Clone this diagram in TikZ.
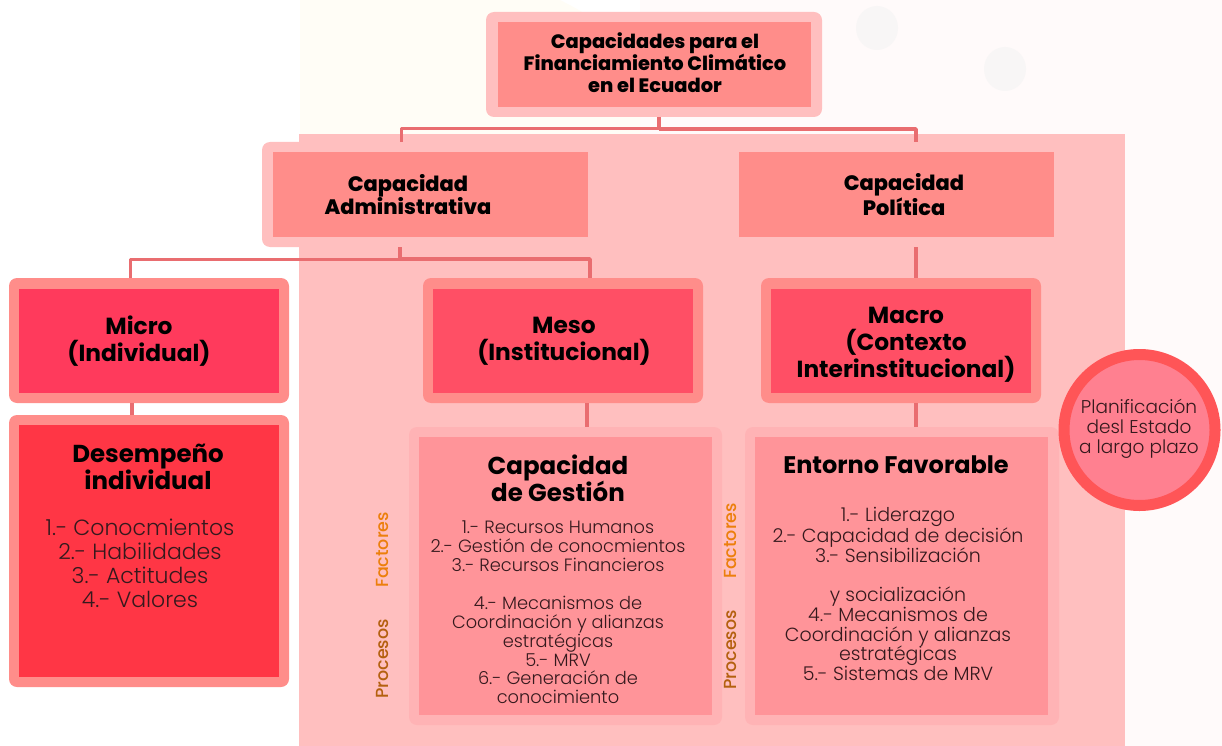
\documentclass[tikz,border=0pt]{standalone}
\usepackage{fontspec}
\setmainfont{Poppins}
\newfontfamily\heavyf{Poppins ExtraBold}
\newfontfamily\lightf{Poppins Light}
\newfontfamily\medf{Poppins Medium}
\definecolor{panel}{HTML}{FFBFBF}
\definecolor{salmon}{HTML}{FF8D8A}
\definecolor{wire}{HTML}{E96D70}
\definecolor{microc}{HTML}{FF3A5C}
\definecolor{mesoc}{HTML}{FF4F65}
\definecolor{desc}{HTML}{FF3645}
\definecolor{listedge}{HTML}{FFB3B5}
\definecolor{listfill}{HTML}{FF9499}
\definecolor{circfill}{HTML}{FF8090}
\definecolor{circedge}{HTML}{FF5557}
\definecolor{bodyc}{HTML}{35191D}
\definecolor{factc}{HTML}{EC7F0C}
\definecolor{procc}{HTML}{B4600F}
\definecolor{tintpink}{HTML}{FFFAFA}
\definecolor{tintcream}{HTML}{FFFDF6}
\definecolor{tintgrey}{HTML}{F8F6F6}
\tikzset{
  boxn/.style={anchor=north west,inner sep=0pt,outer sep=0pt,draw=none},
  outerbox/.style={boxn,rounded corners=8pt},
  wireline/.style={draw=wire,line width=3.6pt,line join=round},
  lbltext/.style={align=center,inner sep=0pt,outer sep=0pt,text=black},
  headT/.style={lbltext,font=\fontsize{19.4}{21.3}\selectfont\heavyf},
  headA/.style={lbltext,font=\fontsize{20.9}{23}\selectfont\heavyf},
  headB/.style={lbltext,font=\fontsize{23.3}{27}\selectfont\bfseries},
  headC/.style={lbltext,font=\fontsize{24.5}{27}\selectfont\bfseries},
  listA/.style={lbltext,text=bodyc,font=\fontsize{17.8}{18.9}\selectfont\lightf},
  listB/.style={lbltext,text=bodyc,font=\fontsize{19}{19.75}\selectfont\lightf},
  sidelab/.style={inner sep=0pt,outer sep=0pt,rotate=90,font=\fontsize{17.5}{18}\selectfont\medf},
}
\newcommand{\mkbox}[6]{\node[#6,minimum width=#4pt-#2pt,minimum height=#5pt-#3pt] (#1) at (#2,#3) {};}
\begin{document}
\begin{tikzpicture}[x=1pt,y=-1pt]
\useasboundingbox (0,0) rectangle (1222,746);
% faint backdrop
\fill[tintpink] (640,0) rectangle (1222,746);
\fill[tintcream] (300,0) -- (300,134) -- (640,134) -- (640,60) .. controls (600,20) and (580,10) .. (560,0) -- cycle;
\fill[tintgrey] (877,28) ellipse (21 and 22);
\fill[tintgrey] (1005,69) ellipse (21 and 22);
\fill[panel] (299,134) rectangle (1125,746);
% boxes
\mkbox{top}{486}{12}{822}{117}{outerbox,fill=panel}
\mkbox{topi}{498}{22}{811}{107}{boxn,fill=salmon}
\mkbox{adm}{262}{142}{598}{247}{outerbox,fill=panel}
\mkbox{admi}{273}{152}{588}{237}{boxn,fill=salmon}
\mkbox{pol}{728}{142}{1064}{247}{outerbox,fill=panel}
\mkbox{poli}{739}{152}{1054}{237}{boxn,fill=salmon}
\mkbox{mic}{9}{278}{289}{403}{outerbox,fill=salmon}
\mkbox{mici}{19}{289}{279}{393}{boxn,fill=microc}
\mkbox{mes}{423}{278}{703}{403}{outerbox,fill=salmon}
\mkbox{mesi}{433}{289}{693}{393}{boxn,fill=mesoc}
\mkbox{mac}{761}{278}{1041}{403}{outerbox,fill=salmon}
\mkbox{maci}{771}{289}{1031}{393}{boxn,fill=mesoc}
\mkbox{des}{9}{415}{289}{687}{outerbox,fill=salmon}
\mkbox{desi}{19}{425}{279}{677}{boxn,fill=desc}
\mkbox{ges}{409}{427}{722}{725}{outerbox,fill=listedge}
\mkbox{gesi}{419}{437}{712}{715}{boxn,fill=listfill}
\mkbox{ent}{745}{427}{1059}{725}{outerbox,fill=listedge}
\mkbox{enti}{755}{437}{1048}{715}{boxn,fill=listfill}
\node[circle,fill=circfill,draw=circedge,line width=11pt,minimum size=151pt,inner sep=0pt,outer sep=0pt] (plan) at (1139.5,430) {};
% connectors
\draw[wireline] ([xshift=5pt]top.south) -- ++(0,12) coordinate (j1);
\draw[wireline,line width=3pt] (j1) -| ([xshift=-29pt]adm.north);
\draw[wireline] (j1) -| ([xshift=20pt]pol.north);
\draw[wireline] ([xshift=-30pt]adm.south) -- ++(0,12) coordinate (j2);
\draw[wireline,line width=3pt] (j2) -| ([xshift=-19pt]mic.north);
\draw[wireline] (j2) -| ([xshift=27pt]mes.north);
\draw[wireline] ([xshift=20pt]pol.south) -- ([xshift=15pt]mac.north);
\draw[wireline] ([xshift=-17pt]mic.south) -- ([xshift=-17pt]des.north);
\draw[wireline] ([xshift=24pt]mes.south) -- ([xshift=21.5pt]ges.north);
\draw[wireline] ([xshift=15pt]mac.south) -- ([xshift=14pt]ent.north);
% text
\node[headT] (t1) at (655,62.5) {Capacidades para el\\Financiamiento Climático\\en el Ecuador};
\node[headA] (t2) at (408,194.5) {Capacidad\\Administrativa};
\node[headA] (t3) at (904,194.5) {Capacidad\\Política};
\node[headB] (t4) at (139,341.5) {Micro\\(Individual)};
\node[headB] (t5) at (564,341.5) {Meso\\(Institucional)};
\node[headB] (t6) at (906,345) {Macro\\(Contexto\\Interinstitucional)};
\node[headC] (t7) at (148,467) {Desempeño\\individual};
\node[lbltext,text=bodyc,font=\fontsize{22}{24}\selectfont\lightf] (t8) at (140,563) {1.- Conocmientos\\2.- Habilidades\\3.- Actitudes\\4.- Valores};
\node[headC] (t9) at (558,478) {Capacidad\\de Gestión};
\node[listA] (t10) at (558,612.5) {1.- Recursos Humanos\\2.- Gestión de conocmientos\\3.- Recursos Financieros\\[18.9pt]4.- Mecanismos de\\Coordinación y alianzas\\estratégicas\\5.- MRV\\6.- Generación de\\conocimiento};
\node[lbltext,font=\fontsize{24}{27}\selectfont\bfseries] (t11) at (896,465) {Entorno Favorable};
\node[listB] (t12) at (898,594) {1.- Liderazgo\\2.- Capacidad de decisión\\3.- Sensibilización\\[19.75pt]y socialización\\4.- Mecanismos de\\Coordinación y alianzas\\estratégicas\\5.- Sistemas de MRV};
\node[lbltext,text=bodyc,font=\fontsize{18.5}{20}\selectfont\lightf] (t13) at (1139,429) {Planificación\\desl Estado\\a largo plazo};
\node[sidelab,text=factc] (f1) at (382,550) {Factores};
\node[sidelab,text=procc] (p1) at (382,659) {Procesos};
\node[sidelab,text=factc] (f2) at (730,541) {Factores};
\node[sidelab,text=procc] (p2) at (730,650) {Procesos};
\end{tikzpicture}
\end{document}
